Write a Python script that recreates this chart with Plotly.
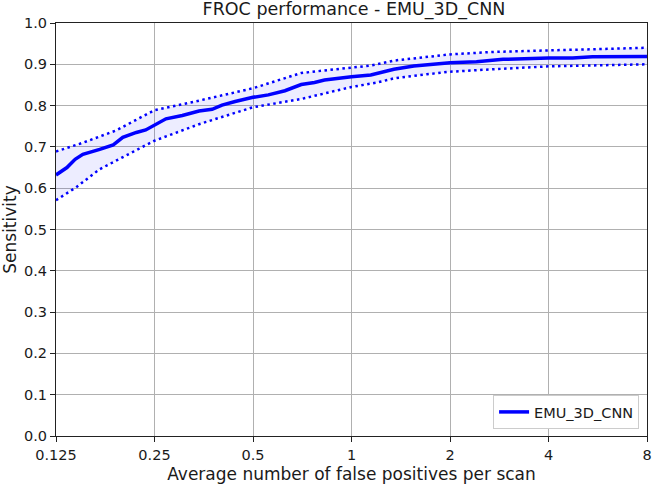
import plotly.graph_objects as go

# FROC curve (false positives per scan vs sensitivity)
fp_main = [0.125, 0.135, 0.143, 0.151, 0.170, 0.187, 0.200, 0.220, 0.235, 0.250,
           0.271, 0.304, 0.342, 0.375, 0.402, 0.441, 0.500, 0.557, 0.626, 0.702,
           0.771, 0.827, 0.929, 1.0, 1.145, 1.348, 1.55, 2.0, 2.41, 2.906,
           4.0, 4.74, 5.45, 8.0]
sens_main = [0.632, 0.650, 0.670, 0.682, 0.694, 0.705, 0.723, 0.735, 0.741, 0.752,
             0.768, 0.776, 0.787, 0.791, 0.801, 0.810, 0.820, 0.826, 0.836, 0.851,
             0.856, 0.862, 0.868, 0.870, 0.874, 0.888, 0.896, 0.904, 0.906, 0.912,
             0.915, 0.915, 0.918, 0.919]

fp_upper = [0.125, 0.151, 0.191, 0.25, 0.342, 0.5, 0.702, 1.0, 1.145, 1.348, 2.0, 2.71, 4.0, 8.0]
sens_upper = [0.689, 0.710, 0.740, 0.789, 0.812, 0.842, 0.879, 0.891, 0.897, 0.909, 0.924, 0.930, 0.934, 0.940]

fp_lower = [0.125, 0.144, 0.170, 0.214, 0.25, 0.342, 0.5, 0.702, 1.0, 1.2, 1.348, 1.70, 2.0, 2.71, 4.0, 8.0]
sens_lower = [0.571, 0.602, 0.646, 0.687, 0.715, 0.755, 0.796, 0.816, 0.845, 0.856, 0.866, 0.876, 0.882, 0.888, 0.895, 0.900]

x_ticks = [0.125, 0.25, 0.5, 1, 2, 4, 8]
x_labels = ["0.125", "0.25", "0.5", "1", "2", "4", "8"]
y_ticks = [i / 10 for i in range(11)]

font = "DejaVu Sans"
blue = "#0000ff"

fig = go.Figure()
# shaded confidence band
fig.add_trace(go.Scatter(x=fp_upper + fp_lower[::-1], y=sens_upper + sens_lower[::-1],
                         fill="toself", fillcolor="rgba(0,0,255,0.07)",
                         line=dict(width=0), mode="lines", showlegend=False, hoverinfo="skip"))
fig.add_trace(go.Scatter(x=fp_upper, y=sens_upper, mode="lines",
                         line=dict(color=blue, width=2.5, dash="2.5px,3.5px"), showlegend=False))
fig.add_trace(go.Scatter(x=fp_lower, y=sens_lower, mode="lines",
                         line=dict(color=blue, width=2.5, dash="2.5px,3.5px"), showlegend=False))
fig.add_trace(go.Scatter(x=fp_main, y=sens_main, mode="lines", name="EMU_3D_CNN",
                         line=dict(color=blue, width=3.5)))

fig.update_layout(
    width=657, height=485,
    margin=dict(l=56, r=5, t=23, b=48),
    paper_bgcolor="white", plot_bgcolor="white",
    font=dict(family=font, size=14.5, color="#1a1a1a"),
    title=dict(text="FROC performance - EMU_3D_CNN", x=(56 + 652) / 2 / 657, xanchor="center",
               y=1 - 9 / 485, yanchor="middle", font=dict(size=17.5)),
    legend=dict(x=0.9866, y=0.017, xanchor="right", yanchor="bottom",
                bgcolor="white", bordercolor="#cccccc", borderwidth=1,
                font=dict(size=14.5)),
)
fig.update_xaxes(type="log", range=[-0.90309, 0.90309], tickvals=x_ticks, ticktext=x_labels,
                 showgrid=True, gridcolor="#b0b0b0", gridwidth=1,
                 showline=True, linecolor="#222", linewidth=1.2, mirror=True,
                 ticks="outside", ticklen=5, tickcolor="#222", zeroline=False,
                 ticklabeloverflow="allow",
                 title=dict(text="Average number of false positives per scan", standoff=6))
fig.update_yaxes(range=[0, 1], tickvals=y_ticks, tickformat=".1f",
                 showgrid=True, gridcolor="#b0b0b0", gridwidth=1,
                 showline=True, linecolor="#222", linewidth=1.2, mirror=True,
                 ticks="outside", ticklen=5, tickcolor="#222", zeroline=False,
                 title=dict(text="Sensitivity", standoff=6))

# drop the default page margin so the figure sits at the window's corner
fig.write_html("out.html", config={"displayModeBar": False},
               post_script="document.body.style.margin='0';")
